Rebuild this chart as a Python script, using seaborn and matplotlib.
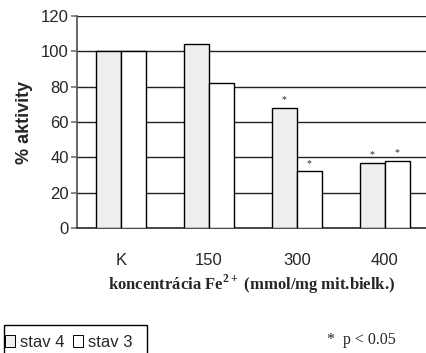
import matplotlib
matplotlib.use("Agg")
import matplotlib.pyplot as plt
import pandas as pd
import seaborn as sns
from matplotlib.patches import Patch, Rectangle

koncentracie = ["K", "150", "300", "400"]
stav4 = [100, 104, 68, 37]
stav3 = [100, 82, 32, 38]
vyznamne4 = [False, False, True, True]
vyznamne3 = [False, False, True, True]
serie = ["stav 4", "stav 3"]
farby = ["#efefef", "#ffffff"]

df = pd.DataFrame({
    "konc": koncentracie * 2,
    "aktivita": stav4 + stav3,
    "stav": [serie[0]] * 4 + [serie[1]] * 4,
})

sns.set_theme(style="white")
plt.rcParams["font.family"] = ["Liberation Sans", "DejaVu Sans"]
plt.rcParams["mathtext.fontset"] = "custom"
plt.rcParams["mathtext.rm"] = "Liberation Serif"
plt.rcParams["mathtext.bf"] = "Liberation Serif:bold"

fig = plt.figure(figsize=(4.26, 3.53), dpi=100)
ax = fig.add_axes([0.181, 0.354, 0.819, 0.601])

sns.barplot(data=df, x="konc", y="aktivita", hue="stav", palette=farby,
            edgecolor="black", linewidth=1.0, width=0.57, gap=0,
            legend=False, ax=ax, zorder=3)

ax.set_ylim(0, 120)
ax.set_yticks(range(0, 121, 20))
ax.set_xlim(-0.5, 3.47)
ax.yaxis.grid(True, color="#222222", linewidth=1.0, zorder=0)
ax.set_axisbelow(True)
for s in ["top", "right"]:
    ax.spines[s].set_visible(False)
ax.spines["left"].set_color("#555555")
ax.spines["bottom"].set_color("#333333")
ax.tick_params(axis="y", left=True, length=4, color="#777777", labelsize=12, pad=2)
ax.tick_params(axis="x", bottom=False, labelsize=12, pad=12)

ax.set_ylabel("% aktivity", fontsize=13, fontweight="bold", labelpad=6)
ax.set_xlabel("koncentrácia Fe$^{\\mathbf{2+}}$ (mmol/mg mit.bielk.)",
              fontsize=12, fontweight="bold", family=["Liberation Serif"], labelpad=3)

# hviezdicky nad vyznamnymi stlpcami
for cont, flags in zip(ax.containers, [vyznamne4, vyznamne3]):
    for bar, f in zip(cont, flags):
        if f:
            ax.text(bar.get_x() + bar.get_width() / 2, bar.get_height() + 2, "*",
                    ha="center", va="bottom", fontsize=7, family=["Liberation Serif"])

# legenda v ramceku, ktory presahuje spodny okraj
handles = [Patch(facecolor=c, edgecolor="black", linewidth=0.7) for c in farby]
fig.legend(handles, serie, loc="center left", bbox_to_anchor=(0.012, 0.031),
           ncol=2, fontsize=12, frameon=False,
           handlelength=0.6, handleheight=0.7, handletextpad=0.3,
           columnspacing=0.5, borderpad=0, borderaxespad=0)
fig.add_artist(Rectangle((0.009, -0.05), 0.336, 0.129, transform=fig.transFigure,
                         facecolor="none", edgecolor="black", linewidth=1.0))

fig.text(0.768, 0.037, "*  p < 0.05", fontsize=11.5, family=["Liberation Serif"],
         va="center")

fig.savefig("out.png", dpi=100)
